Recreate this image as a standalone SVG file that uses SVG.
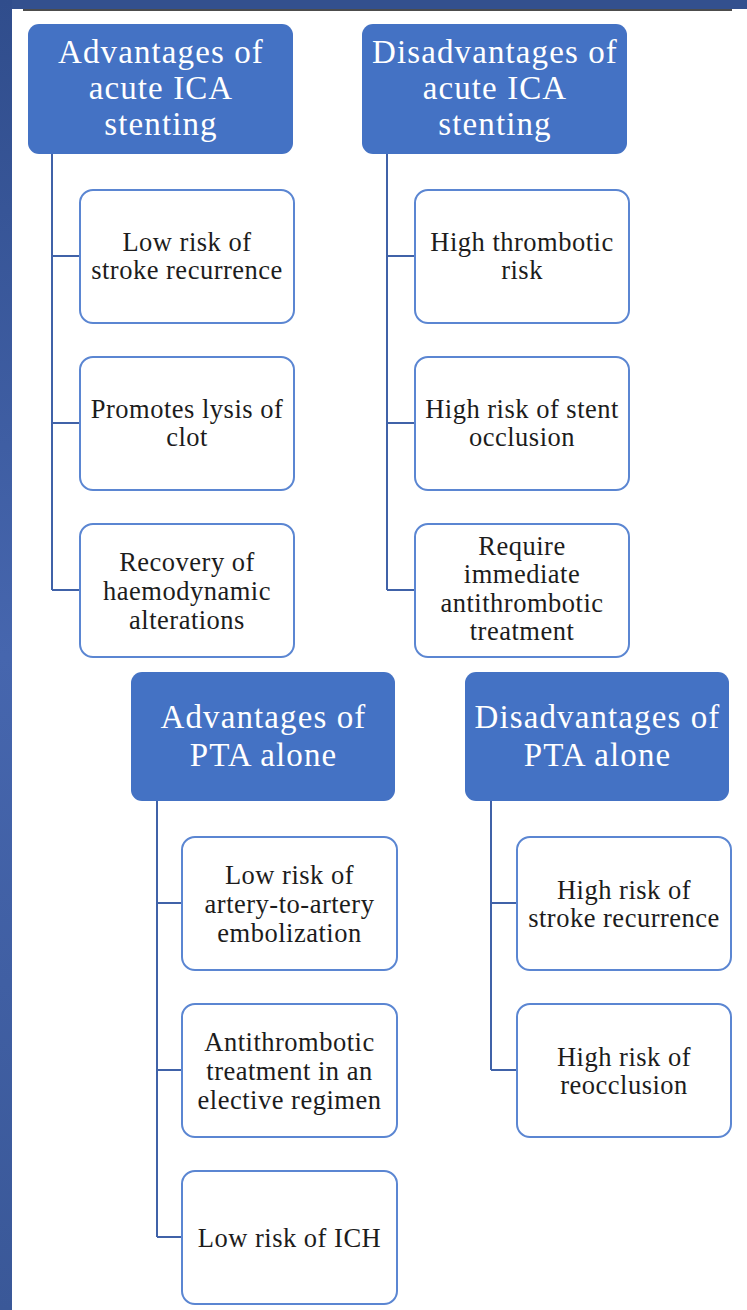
<svg xmlns="http://www.w3.org/2000/svg" width="747" height="1310" viewBox="0 0 747 1310">
<defs>
<linearGradient id="band" x1="0" y1="0" x2="0" y2="1">
<stop offset="0" stop-color="#304d8c"/>
<stop offset="0.5" stop-color="#4666ae"/>
<stop offset="1" stop-color="#3a5898"/>
</linearGradient>
<style>
.hdr{fill:#4472c4;}
.hdr text{fill:#ffffff;font-family:"Liberation Serif","Times New Roman",serif;font-size:33px;text-anchor:middle;letter-spacing:1.1px;}
.box rect{fill:#ffffff;stroke:#5b86d2;stroke-width:2;}
.box text{fill:#1c1c1c;font-family:"Liberation Serif","Times New Roman",serif;font-size:26.5px;text-anchor:middle;letter-spacing:0.5px;}
.conn{fill:none;stroke:#4062a8;stroke-width:2;}
</style>
</defs>
<rect x="0" y="0" width="747" height="1310" fill="#ffffff"/>
<rect x="0" y="0" width="747" height="9" fill="#33508e"/>
<rect x="0" y="0" width="12" height="1310" fill="url(#band)"/>
<line x1="23" y1="10" x2="732" y2="10" stroke="#111111" stroke-width="1.6"/>

<g id="connectors">
<path class="conn" d="M52,154 V590 M52,256 H80 M52,423 H80 M52,590 H80"/>
<path class="conn" d="M387,154 V590 M387,256 H415 M387,423 H415 M387,590 H415"/>
<path class="conn" d="M157,801 V1237 M157,903 H182 M157,1070 H182 M157,1237 H182"/>
<path class="conn" d="M491,801 V1070 M491,903 H517 M491,1070 H517"/>
</g>

<g id="h1" class="hdr">
<rect x="28" y="24" width="265" height="130" rx="11"/>
<text x="161" y="63">Advantages of</text>
<text x="161" y="99">acute ICA</text>
<text x="161" y="135">stenting</text>
</g>
<g id="h2" class="hdr">
<rect x="362" y="24" width="265" height="130" rx="11"/>
<text x="495" y="63">Disadvantages of</text>
<text x="495" y="99">acute ICA</text>
<text x="495" y="135">stenting</text>
</g>
<g id="h3" class="hdr">
<rect x="131" y="672" width="264" height="129" rx="11"/>
<text x="263.5" y="728">Advantages of</text>
<text x="263.5" y="766">PTA alone</text>
</g>
<g id="h4" class="hdr">
<rect x="465" y="672" width="264" height="129" rx="11"/>
<text x="597.5" y="728">Disadvantages of</text>
<text x="597.5" y="766">PTA alone</text>
</g>

<g id="c1a" class="box">
<rect x="80" y="190" width="214" height="133" rx="13"/>
<text x="187" y="251">Low risk of</text>
<text x="187" y="279">stroke recurrence</text>
</g>
<g id="c1b" class="box">
<rect x="80" y="357" width="214" height="133" rx="13"/>
<text x="187" y="418">Promotes lysis of</text>
<text x="187" y="446">clot</text>
</g>
<g id="c1c" class="box">
<rect x="80" y="524" width="214" height="133" rx="13"/>
<text x="187" y="571">Recovery of</text>
<text x="187" y="600">haemodynamic</text>
<text x="187" y="629">alterations</text>
</g>

<g id="c2a" class="box">
<rect x="415" y="190" width="214" height="133" rx="13"/>
<text x="522" y="251">High thrombotic</text>
<text x="522" y="279">risk</text>
</g>
<g id="c2b" class="box">
<rect x="415" y="357" width="214" height="133" rx="13"/>
<text x="522" y="418">High risk of stent</text>
<text x="522" y="446">occlusion</text>
</g>
<g id="c2c" class="box">
<rect x="415" y="524" width="214" height="133" rx="13"/>
<text x="522" y="555">Require</text>
<text x="522" y="583">immediate</text>
<text x="522" y="612">antithrombotic</text>
<text x="522" y="640">treatment</text>
</g>

<g id="c3a" class="box">
<rect x="182" y="837" width="215" height="133" rx="13"/>
<text x="289.5" y="884">Low risk of</text>
<text x="289.5" y="913">artery-to-artery</text>
<text x="289.5" y="942">embolization</text>
</g>
<g id="c3b" class="box">
<rect x="182" y="1004" width="215" height="133" rx="13"/>
<text x="289.5" y="1051">Antithrombotic</text>
<text x="289.5" y="1080">treatment in an</text>
<text x="289.5" y="1109">elective regimen</text>
</g>
<g id="c3c" class="box">
<rect x="182" y="1171" width="215" height="133" rx="13"/>
<text x="289.5" y="1247">Low risk of ICH</text>
</g>

<g id="c4a" class="box">
<rect x="517" y="837" width="214" height="133" rx="13"/>
<text x="624" y="899">High risk of</text>
<text x="624" y="927">stroke recurrence</text>
</g>
<g id="c4b" class="box">
<rect x="517" y="1004" width="214" height="133" rx="13"/>
<text x="624" y="1066">High risk of</text>
<text x="624" y="1094">reocclusion</text>
</g>
</svg>
